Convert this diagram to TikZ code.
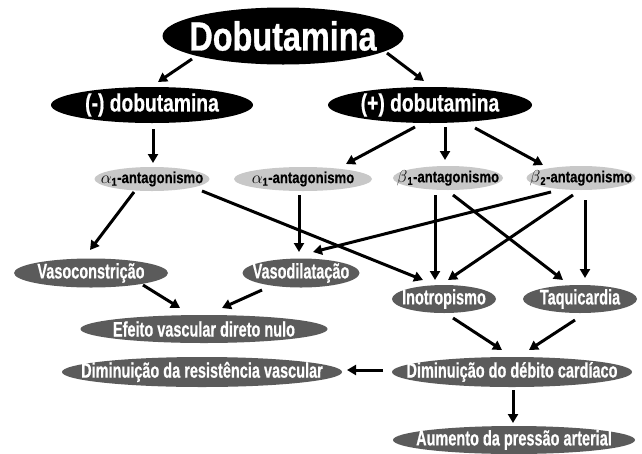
\documentclass[tikz,border=0pt]{standalone}
\usepackage{fontspec}
\setmainfont{Liberation Sans}
\newfontfamily\fdob[FakeStretch=0.80, BoldFeatures={FakeBold=0.8}]{Liberation Sans}
\newfontfamily\fmid[FakeStretch=0.77, BoldFeatures={FakeBold=0.6}]{Liberation Sans}
\newfontfamily\flig[FakeStretch=0.82, BoldFeatures={FakeBold=0.4}]{Liberation Sans}
\newfontfamily\fdrk[FakeStretch=0.69, BoldFeatures={FakeBold=0.5}]{Liberation Sans}
\usetikzlibrary{shapes.geometric,arrows.meta}
\definecolor{lightnode}{HTML}{C8C8C8}
\definecolor{darknode}{HTML}{5B5B5B}
\tikzset{
  base/.style={ellipse, inner sep=0pt, outer sep=0pt},
  toptxt/.style={text=white, inner sep=0pt, font=\fdob\bfseries\fontsize{40.5}{42}\selectfont},
  midtxt/.style={text=white, inner sep=0pt, font=\fmid\bfseries\fontsize{25}{27}\selectfont},
  ligtxt/.style={text=black, inner sep=0pt, font=\flig\bfseries\fontsize{16}{18}\selectfont},
  drktxt/.style={text=white, inner sep=0pt, font=\fdrk\bfseries\fontsize{21}{23}\selectfont},
  topnode/.style={base, fill=black, label={[toptxt]center:#1}},
  midnode/.style={base, fill=black, label={[midtxt]center:#1}},
  lightbox/.style={base, fill=lightnode, label={[ligtxt]center:#1}},
  darkbox/.style={base, fill=darknode, label={[drktxt]center:#1}},
  arr/.style={line width=3pt, -{Triangle[length=9pt,width=10pt]}}
}
\newcommand\grk[1]{$#1$}
\begin{document}
\begin{tikzpicture}[x=1pt,y=-1pt]
\useasboundingbox (0,0) rectangle (642,453);
\node[topnode={Dobutamina}, minimum width=241pt, minimum height=57pt] (dob) at (283,36) {};
\node[midnode={(-) dobutamina}, minimum width=202pt, minimum height=36pt] (neg) at (152,105) {};
\node[midnode={(+) dobutamina}, minimum width=204pt, minimum height=36pt] (pos) at (430,105) {};
\node[lightbox={\grk{\alpha}\textsubscript{1}-antagonismo}, minimum width=115pt, minimum height=24pt] (a1L) at (152,179) {};
\node[lightbox={\grk{\alpha}\textsubscript{1}-antagonismo}, minimum width=138pt, minimum height=24pt] (a1M) at (303,179) {};
\node[lightbox={\grk{\beta}\textsubscript{1}-antagonismo}, minimum width=110pt, minimum height=24pt] (b1) at (448,178) {};
\node[lightbox={\grk{\beta}\textsubscript{2}-antagonismo}, minimum width=109pt, minimum height=24pt] (b2) at (581,178) {};
\node[darkbox={Vasoconstrição}, minimum width=154pt, minimum height=29pt] (vcon) at (91,273) {};
\node[darkbox={Vasodilatação}, minimum width=117pt, minimum height=29pt] (vdil) at (301,273) {};
\node[darkbox={Inotropismo}, minimum width=104pt, minimum height=28pt] (ino) at (444,299) {};
\node[darkbox={Taquicardia}, minimum width=114pt, minimum height=28pt] (taq) at (580,299) {};
\node[darkbox={Efeito vascular direto nulo}, minimum width=247pt, minimum height=28pt] (efe) at (204,329) {};
\node[darkbox={Diminuição da resistência vascular}, minimum width=280pt, minimum height=30pt] (res) at (202,372) {};
\node[darkbox={Diminuição do débito cardíaco}, minimum width=240pt, minimum height=30pt] (deb) at (512,372) {};
\node[darkbox={Aumento da pressão arterial}, minimum width=242pt, minimum height=28pt] (aum) at (514,440) {};

\draw[arr] ([shift={(-91,23)}]dob.center) -- ([shift={(6,-23)}]neg.center);
\draw[arr] ([shift={(104,17)}]dob.center) -- ([shift={(-6,-24)}]pos.center);
\draw[arr] ([shift={(1,24)}]neg.center) -- ([shift={(1,-16)}]a1L.center);
\draw[arr] ([shift={(-15,22)}]pos.center) -- ([shift={(43,-15)}]a1M.center);
\draw[arr] ([shift={(15,22)}]pos.center) -- ([shift={(-3,-18)}]b1.center);
\draw[arr] ([shift={(45,23)}]pos.center) -- ([shift={(-38,-13)}]b2.center);
\draw[arr] ([shift={(-18,13)}]a1L.center) -- ([shift={(-1,-23)}]vcon.center);
\draw[arr] ([shift={(50,12)}]a1L.center) -- ([shift={(-21,-19)}]ino.center);
\draw[arr] ([shift={(-4,16)}]a1M.center) -- ([shift={(-2,-21)}]vdil.center);
\draw[arr] ([shift={(-30,14)}]b2.center) -- ([shift={(12,-21)}]vdil.center);
\draw[arr] ([shift={(-13,17)}]b1.center) -- ([shift={(-9,-19)}]ino.center);
\draw[arr] ([shift={(5,17)}]b1.center) -- ([shift={(-17,-19)}]taq.center);
\draw[arr] ([shift={(-8,17)}]b2.center) -- ([shift={(4,-19)}]ino.center);
\draw[arr] ([shift={(4,22)}]b2.center) -- ([shift={(5,-21)}]taq.center);
\draw[arr] ([shift={(52,12)}]vcon.center) -- ([shift={(-24,-21)}]efe.center);
\draw[arr] ([shift={(-39,17)}]vdil.center) -- ([shift={(18,-21)}]efe.center);
\draw[arr] ([shift={(9,19)}]ino.center) -- ([shift={(-10,-22)}]deb.center);
\draw[arr] ([shift={(-5,21)}]taq.center) -- ([shift={(17,-22)}]deb.center);
\draw[arr] ([shift={(-129,-2)}]deb.center) -- ([shift={(145,-2)}]res.center);
\draw[arr] ([shift={(1,18)}]deb.center) -- ([shift={(-1,-17)}]aum.center);
\end{tikzpicture}
\end{document}
